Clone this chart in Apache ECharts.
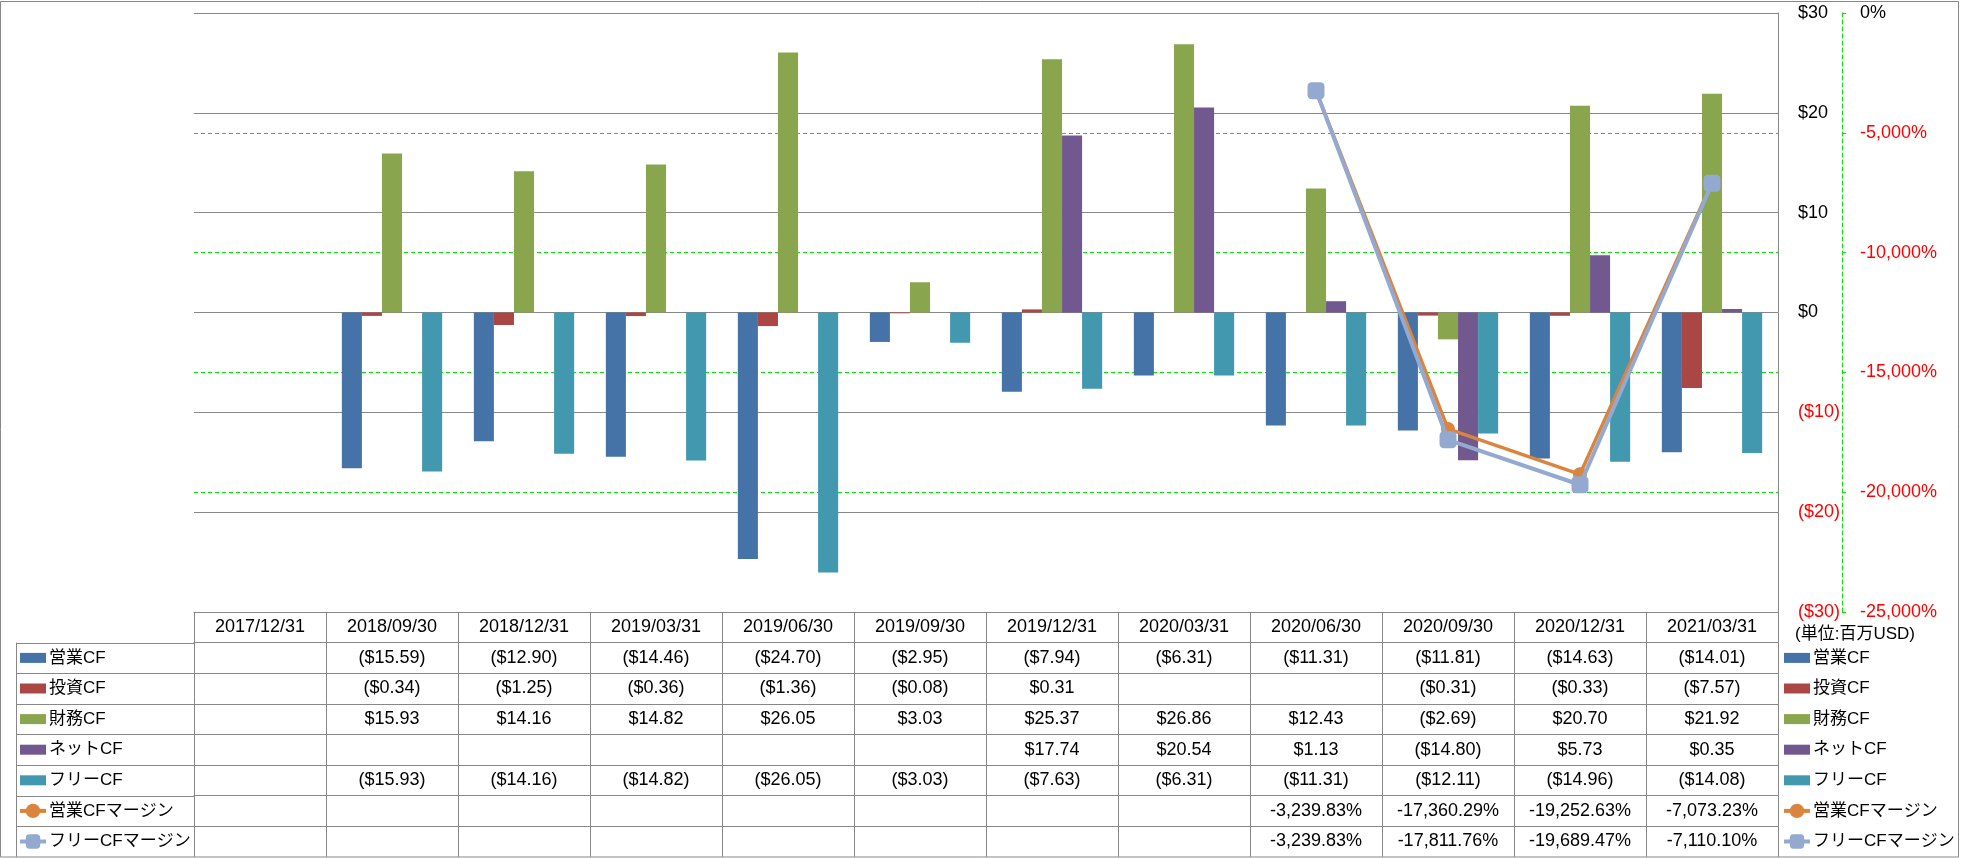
<!DOCTYPE html>
<html><head><meta charset="utf-8">
<script src="https://cdn.jsdelivr.net/npm/echarts@6/dist/echarts.min.js"></script>
<style>html,body{margin:0;padding:0;background:#fff}#c{width:1961px;height:858px}</style>
</head><body><div id="c"></div>
<script>
// ---- data ----
const categories = ['2017/12/31','2018/09/30','2018/12/31','2019/03/31','2019/06/30','2019/09/30','2019/12/31','2020/03/31','2020/06/30','2020/09/30','2020/12/31','2021/03/31'];
const operatingCF = [null,-15.59,-12.90,-14.46,-24.70,-2.95,-7.94,-6.31,-11.31,-11.81,-14.63,-14.01];
const investingCF = [null,-0.34,-1.25,-0.36,-1.36,-0.08,0.31,null,null,-0.31,-0.33,-7.57];
const financingCF = [null,15.93,14.16,14.82,26.05,3.03,25.37,26.86,12.43,-2.69,20.70,21.92];
const netCF = [null,null,null,null,null,null,17.74,20.54,1.13,-14.80,5.73,0.35];
const freeCF = [null,-15.93,-14.16,-14.82,-26.05,-3.03,-7.63,-6.31,-11.31,-12.11,-14.96,-14.08];
const operatingMargin = [null,null,null,null,null,null,null,null,-3239.83,-17360.29,-19252.63,-7073.23];
const freeMargin = [null,null,null,null,null,null,null,null,-3239.83,-17811.76,-19689.47,-7110.10];
const barNames = ['営業CF','投資CF','財務CF','ネットCF','フリーCF'];
const lineNames = ['営業CFマージン','フリーCFマージン'];
const moneyTicks = {min:-30, max:30, step:10};
const pctTicks = {min:-25000, max:0, step:5000};
const unitLabel = '(単位:百万USD)';

// ---- style ----
const FONT = "'Liberation Sans','Noto Sans CJK JP',sans-serif";
const GRAY = '#878787';
const GREEN = '#00E600';
const RED = '#FF0000';
const barColors = ['#4572A7','#AA4643','#89A54E','#71588F','#4198AF'];
const lineColors = ['#DB843D','#93A9CF'];
const ROW_H = 30.6;
const GL = 194, GR = 1778, GT = 13, GB = 612, W = 1961, H = 858;

function fmtMoney(v){ if(v==null) return ''; const s='$'+Math.abs(v).toFixed(2); return v<0?'('+s+')':s; }
function fmtPct(v){ if(v==null) return ''; return v.toLocaleString('en-US',{minimumFractionDigits:2,maximumFractionDigits:2})+'%'; }
function fmtAxisMoney(v){ const s='$'+Math.abs(v); return v<0?'('+s+')':s; }
function fmtAxisPct(v){ return v.toLocaleString('en-US')+'%'; }

const barData = [operatingCF, investingCF, financingCF, netCF, freeCF];
const lineData = [operatingMargin, freeMargin];
const rows = [];
barNames.forEach((n,i)=>rows.push({data:barData[i], fmt:fmtMoney}));
lineNames.forEach((n,i)=>rows.push({data:lineData[i], fmt:fmtPct}));

const labelBase = {interval:0, verticalAlign:'middle', margin:ROW_H/2, color:'#000', fontSize:18, fontFamily:FONT};
const xAxes = [{
  type:'category', data:categories, position:'bottom', offset:0, boundaryGap:true, z:1,
  axisLine:{show:true, onZero:false, lineStyle:{color:GRAY, width:1}},
  axisTick:{show:true, interval:0, length:ROW_H, lineStyle:{color:GRAY}},
  axisLabel:Object.assign({}, labelBase),
  splitLine:{show:false}, axisPointer:{show:false}
}];
rows.forEach((r,k)=>{
  xAxes.push({
    type:'category', data:categories, position:'bottom', offset:ROW_H*(k+1), boundaryGap:true,
    axisLine:{show:true, onZero:false, lineStyle:{color:GRAY, width:1}},
    axisTick:{show:true, interval:0, length:ROW_H, lineStyle:{color:GRAY}},
    axisLabel:Object.assign({}, labelBase, {formatter:(v,i)=>r.fmt(r.data[i])}),
    splitLine:{show:false}
  });
});

const series = [];
barNames.forEach((n,i)=>series.push({
  name:n, type:'bar', xAxisIndex:0, yAxisIndex:0, data:barData[i],
  barGap:'0%', barCategoryGap:'24%', itemStyle:{color:barColors[i]}, z:2
}));
series.push({
  name:lineNames[0], type:'line', xAxisIndex:0, yAxisIndex:1, data:lineData[0],
  symbol:'circle', symbolSize:14, showAllSymbol:true,
  lineStyle:{width:3.5, color:lineColors[0]}, itemStyle:{color:lineColors[0]}, z:5
});
series.push({
  name:lineNames[1], type:'line', xAxisIndex:0, yAxisIndex:1, data:lineData[1],
  symbol:'roundRect', symbolSize:17, showAllSymbol:true,
  lineStyle:{width:4, color:lineColors[1]}, itemStyle:{color:lineColors[1]}, z:6
});

const legendText = {fontSize:17, lineHeight:22, fontFamily:FONT, color:'#000', padding:[0,0,0,-2]};
function mkLegend(left, names, top, ih, icon){
  const l = {data:names, orient:'vertical', left:left, top:top, itemWidth:26, itemHeight:ih,
    itemGap:ROW_H-22, textStyle:legendText, selectedMode:false, padding:0, lineStyle:{width:4}};
  if(icon) l.icon = icon;
  return l;
}
const legends = [
  mkLegend(20, barNames, GB+ROW_H+(ROW_H-22)/2, 10, 'rect'),
  mkLegend(18, lineNames, GB+ROW_H*6+(ROW_H-22)/2, 18),
  mkLegend(1784, barNames, GB+ROW_H+(ROW_H-22)/2, 10, 'rect'),
  mkLegend(1782, lineNames, GB+ROW_H*6+(ROW_H-22)/2, 18)
];

const graphics = [
  {type:'rect', silent:true, shape:{x:0.5, y:1.5, width:1958, height:855.5}, style:{fill:'none', stroke:GRAY, lineWidth:1}},
  {type:'line', silent:true, shape:{x1:16.5, y1:GB+ROW_H, x2:16.5, y2:GB+ROW_H*8}, style:{stroke:GRAY, lineWidth:1}}
];
for(let k=1;k<=7;k++){
  const y = Math.round(GB+ROW_H*k)+0.5;
  graphics.push({type:'line', silent:true, shape:{x1:16, y1:y, x2:GL, y2:y}, style:{stroke:GRAY, lineWidth:1}});
}

const chart = echarts.init(document.getElementById('c'), null, {renderer:'canvas'});
chart.setOption({
  animation:false,
  backgroundColor:'#fff',
  textStyle:{fontFamily:FONT},
  grid:{left:GL, right:W-GR, top:GT, bottom:H-GB, containLabel:false, outerBoundsMode:'none'},
  title:{text:unitLabel, left:1795, top:GB+14, padding:0, textStyle:{fontSize:17, fontWeight:'normal', color:'#000', fontFamily:FONT}},
  legend:legends,
  xAxis:xAxes,
  yAxis:[
    {type:'value', position:'right', min:moneyTicks.min, max:moneyTicks.max, interval:moneyTicks.step, z:1,
     axisLine:{show:true, onZero:false, lineStyle:{color:GRAY}}, axisTick:{show:false},
     splitLine:{show:true, lineStyle:{color:GRAY, width:1}},
     axisLabel:{margin:20, fontSize:18, fontFamily:FONT, color:(v)=>(+v<0?RED:'#000'), formatter:fmtAxisMoney}},
    {type:'value', position:'right', offset:64, min:pctTicks.min, max:pctTicks.max, interval:pctTicks.step, z:0,
     axisLine:{show:true, onZero:false, lineStyle:{color:GREEN, type:[4,3]}},
     axisTick:{show:true, length:4, lineStyle:{color:GREEN}},
     splitLine:{show:true, lineStyle:{color:GREEN, type:[4,3], width:1}},
     axisLabel:{margin:18, fontSize:18, fontFamily:FONT, color:(v)=>(+v<0?RED:'#000'), formatter:fmtAxisPct}}
  ],
  series:series,
  graphic:graphics
});
</script>
</body></html>
